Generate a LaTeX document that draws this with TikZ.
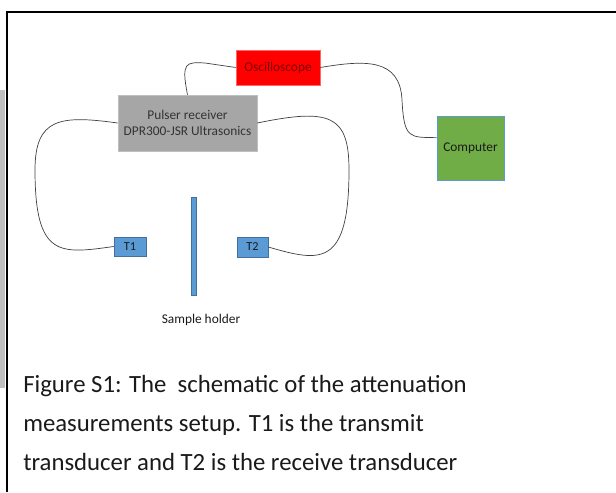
\documentclass[tikz,border=0pt]{standalone}
\usepackage{fontspec}
\setmainfont{Carlito}
\usetikzlibrary{calc}

\definecolor{oscred}{HTML}{FF0000}
\definecolor{oscline}{HTML}{FF6666}
\definecolor{oscink}{HTML}{7A0000}
\definecolor{pulgray}{HTML}{A6A6A6}
\definecolor{pulline}{HTML}{BFBFBF}
\definecolor{comgreen}{HTML}{70AD47}
\definecolor{trblue}{HTML}{5B9BD5}
\definecolor{trline}{HTML}{41719C}
\definecolor{ink}{HTML}{1A1A1A}

\begin{document}
\begin{tikzpicture}[x=0.025cm,y=-0.025cm,
  box/.style={draw,inner sep=0pt,align=center,font=\fontsize{9.5}{11.8}\selectfont,text=ink},
  trans/.style={box,fill=trblue,draw=trline,font=\fontsize{8.7}{10}\selectfont},
  wire/.style={draw=black!75,line width=0.5pt}]

\useasboundingbox (0,0) rectangle (616,492);

%frame of the page
\fill[black!25] (0,90) rectangle (5,388);
\draw[line width=1.4pt] (7,492) -- (7,12) -- (616,12);

\node (osc) at (278,67.5)[box,fill=oscred,draw=oscline,text=oscink,minimum width=2.1cm,minimum height=0.875cm]{Oscilloscope};

\node (pul) at (187.5,123)[box,fill=pulgray,draw=pulline,text=black!80,minimum width=3.475cm,minimum height=1.4cm]{Pulser receiver\\DPR300-JSR Ultrasonics};

\node (com) at (470.5,148)[box,fill=comgreen,draw=trblue,minimum width=1.675cm,minimum height=1.6cm]{Computer};

\node (t1) at (130,246.5)[trans,minimum width=0.8cm,minimum height=0.475cm]{T1};
\node (t2) at (252.5,247)[trans,minimum width=0.775cm,minimum height=0.5cm]{T2};

%sample holder
\node (holder) at (193.5,246)[fill=trblue,draw=trline,line width=0.3pt,inner sep=0pt,minimum width=0.125cm,minimum height=2.45cm]{};
\node (lab) at (201,320)[font=\fontsize{9.5}{11}\selectfont,text=ink]{Sample holder};

%cables
\draw[wire] (pul.north) .. controls (181,62) and (186,62) .. (205,63) -- (osc.west);
\draw[wire] (osc.east) .. controls (365,60) and (400,58) .. (402,100) .. controls (404,140) and (410,137) .. (com.163);
\draw[wire] (pul.west) .. controls (60,115) and (35,118) .. (35,170) .. controls (35,258) and (60,254) .. (t1.west);
\draw[wire] (pul.east) .. controls (330,108) and (349,115) .. (349,170) .. controls (349,268) and (320,262) .. (t2.east);

\node (cap) at (23,423)[anchor=west,align=left,inner sep=0pt,font=\fontsize{17.6}{27.6}\selectfont,text=ink]{Figure S1: The\ \ schematic of the attenuation\\measurements setup. T1 is the transmit\\transducer and T2 is the receive transducer};

\end{tikzpicture}
\end{document}
